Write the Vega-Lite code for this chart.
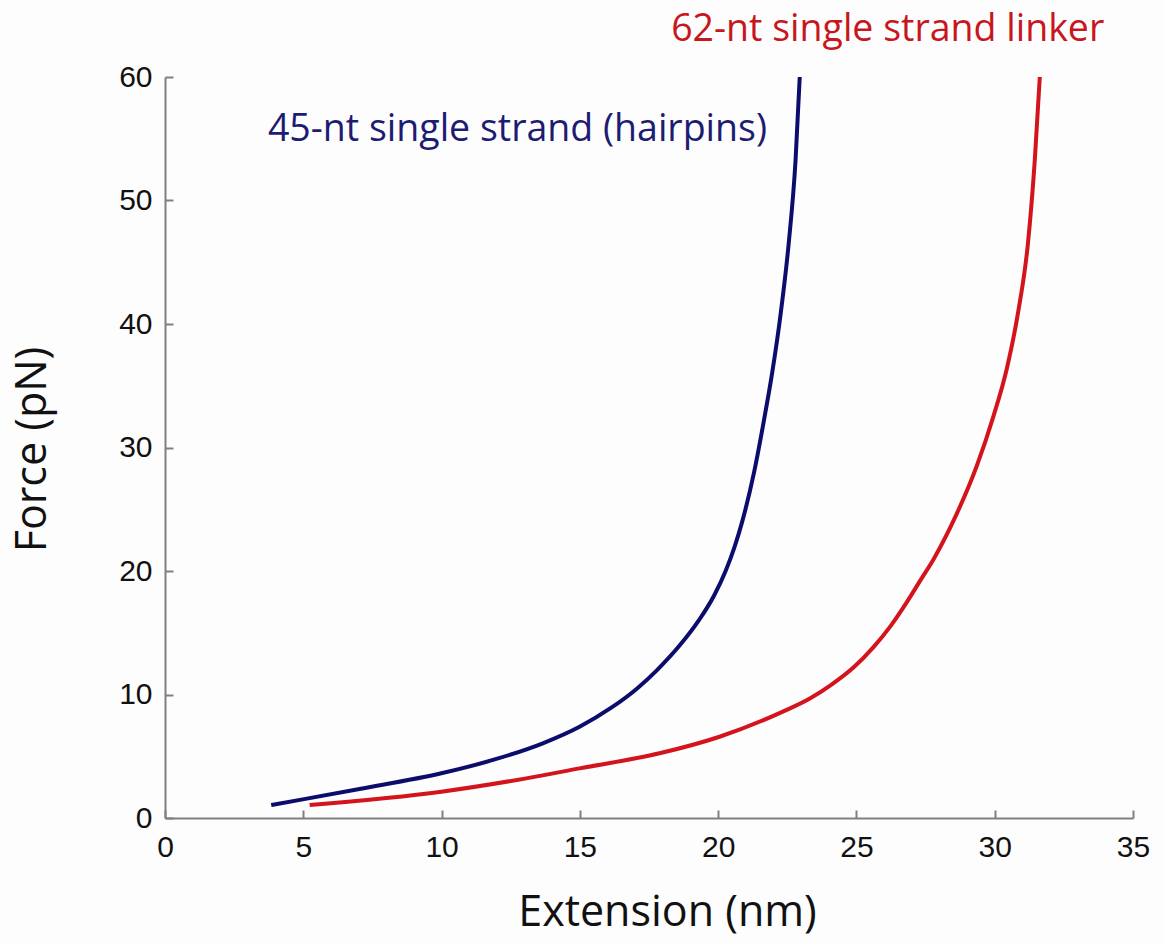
{
  "$schema": "https://vega.github.io/schema/vega-lite/v6.json",
  "width": 968,
  "height": 741,
  "autosize": {"type": "none"},
  "padding": {"left": 165, "top": 77, "right": 31, "bottom": 125},
  "background": "#fdfdfd",
  "config": {"view": {"stroke": null}},
  "datasets": {
    "curves": [
      {"series": "hairpins", "ext": 3.84, "force": 1.05},
      {"series": "hairpins", "ext": 4.98, "force": 1.51},
      {"series": "hairpins", "ext": 7.03, "force": 2.35},
      {"series": "hairpins", "ext": 9.99, "force": 3.62},
      {"series": "hairpins", "ext": 11.86, "force": 4.7},
      {"series": "hairpins", "ext": 13.66, "force": 6.05},
      {"series": "hairpins", "ext": 14.99, "force": 7.39},
      {"series": "hairpins", "ext": 16.15, "force": 8.95},
      {"series": "hairpins", "ext": 17.05, "force": 10.45},
      {"series": "hairpins", "ext": 17.8, "force": 12.0},
      {"series": "hairpins", "ext": 18.62, "force": 14.0},
      {"series": "hairpins", "ext": 19.3, "force": 16.0},
      {"series": "hairpins", "ext": 19.85, "force": 18.0},
      {"series": "hairpins", "ext": 20.27, "force": 20.0},
      {"series": "hairpins", "ext": 20.6, "force": 22.0},
      {"series": "hairpins", "ext": 20.87, "force": 24.0},
      {"series": "hairpins", "ext": 21.3, "force": 28.0},
      {"series": "hairpins", "ext": 21.64, "force": 32.0},
      {"series": "hairpins", "ext": 21.95, "force": 36.0},
      {"series": "hairpins", "ext": 22.27, "force": 41.0},
      {"series": "hairpins", "ext": 22.55, "force": 46.5},
      {"series": "hairpins", "ext": 22.8, "force": 53.3},
      {"series": "hairpins", "ext": 22.95, "force": 60.0},
      {"series": "linker", "ext": 5.23, "force": 1.05},
      {"series": "linker", "ext": 9.99, "force": 2.13},
      {"series": "linker", "ext": 13.06, "force": 3.21},
      {"series": "linker", "ext": 14.99, "force": 4.02},
      {"series": "linker", "ext": 17.88, "force": 5.24},
      {"series": "linker", "ext": 20.05, "force": 6.58},
      {"series": "linker", "ext": 22.34, "force": 8.61},
      {"series": "linker", "ext": 23.3, "force": 9.65},
      {"series": "linker", "ext": 24.1, "force": 10.8},
      {"series": "linker", "ext": 24.9, "force": 12.2},
      {"series": "linker", "ext": 25.6, "force": 13.8},
      {"series": "linker", "ext": 26.22, "force": 15.5},
      {"series": "linker", "ext": 26.8, "force": 17.4},
      {"series": "linker", "ext": 27.3, "force": 19.2},
      {"series": "linker", "ext": 27.8, "force": 21.0},
      {"series": "linker", "ext": 28.6, "force": 24.5},
      {"series": "linker", "ext": 29.35, "force": 28.5},
      {"series": "linker", "ext": 29.95, "force": 32.5},
      {"series": "linker", "ext": 30.45, "force": 36.5},
      {"series": "linker", "ext": 30.85, "force": 41.0},
      {"series": "linker", "ext": 31.2, "force": 46.5},
      {"series": "linker", "ext": 31.45, "force": 53.3},
      {"series": "linker", "ext": 31.63, "force": 60.0}
    ],
    "labels": [
      {"series": "hairpins", "ext": 3.72, "force": 54.8, "text": "45-nt single strand (hairpins)"},
      {"series": "linker", "ext": 18.3, "force": 62.9, "text": "62-nt single strand linker"}
    ]
  },
  "layer": [
    {
      "data": {"name": "curves"},
      "mark": {"type": "line", "strokeWidth": 4, "interpolate": "monotone", "clip": false},
      "encoding": {
        "x": {
          "field": "ext", "type": "quantitative",
          "scale": {"domain": [0, 35], "nice": false, "zero": false},
          "axis": {
            "values": [0, 5, 10, 15, 20, 25, 30, 35],
            "grid": false,
            "tickSize": -8, "tickWidth": 2, "tickColor": "#808080",
            "domainColor": "#808080", "domainWidth": 2,
            "labelFont": "Liberation Sans", "labelFontSize": 30, "labelColor": "#111111",
            "labelPadding": 22, "labelFlush": false, "labelOverlap": false,
            "title": "Extension (nm)",
            "titleFont": "Open Sans", "titleFontSize": 43, "titleFontWeight": "normal", "titleColor": "#111111",
            "titleX": 502, "titleY": 107, "titleAlign": "center", "titleBaseline": "alphabetic"
          }
        },
        "y": {
          "field": "force", "type": "quantitative",
          "scale": {"domain": [0, 60], "nice": false, "zero": false},
          "axis": {
            "values": [0, 10, 20, 30, 40, 50, 60],
            "grid": false,
            "tickSize": -8, "tickWidth": 2, "tickColor": "#808080",
            "domainColor": "#808080", "domainWidth": 2,
            "labelFont": "Liberation Sans", "labelFontSize": 30, "labelColor": "#111111",
            "labelPadding": 21, "labelFlush": false, "labelOverlap": false,
            "title": "Force (pN)",
            "titleFont": "Open Sans", "titleFontSize": 43, "titleFontWeight": "normal", "titleColor": "#111111",
            "titleX": -120, "titleY": 372, "titleAngle": 270, "titleAlign": "center", "titleBaseline": "alphabetic"
          }
        },
        "color": {
          "field": "series", "type": "nominal",
          "scale": {"domain": ["hairpins", "linker"], "range": ["#0c0c6c", "#d4141c"]},
          "legend": null
        },
        "order": {"field": "force", "type": "quantitative"}
      }
    },
    {
      "data": {"name": "labels"},
      "mark": {"type": "text", "font": "Open Sans", "fontSize": 37.5, "align": "left", "baseline": "alphabetic"},
      "encoding": {
        "x": {"field": "ext", "type": "quantitative"},
        "y": {"field": "force", "type": "quantitative"},
        "text": {"field": "text"},
        "color": {
          "field": "series", "type": "nominal",
          "scale": {"domain": ["hairpins", "linker"], "range": ["#1c1c72", "#c8161e"]},
          "legend": null
        }
      }
    }
  ],
  "resolve": {"scale": {"color": "independent"}}
}
